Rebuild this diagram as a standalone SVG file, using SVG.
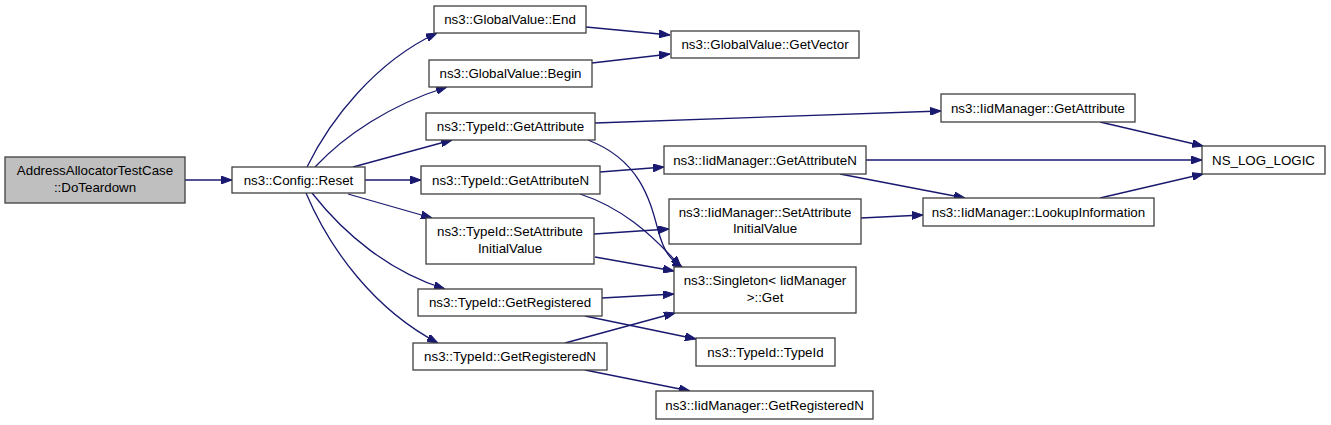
<svg xmlns="http://www.w3.org/2000/svg" width="1331" height="425" viewBox="0 0 1331 425">
<style>
.n rect{fill:#fff;stroke:#404040;stroke-width:1.3}
.n.root rect{fill:#bfbfbf}
text{font-family:"Liberation Sans",Arial,sans-serif;font-size:13.33px;fill:#000;text-anchor:middle}
.e path{fill:none;stroke:#191970;stroke-width:1.3;marker-end:url(#ah)}
</style>
<defs>
<marker id="ah" markerUnits="userSpaceOnUse" markerWidth="11" markerHeight="8" refX="11" refY="4" orient="auto">
<path d="M0,0 L11,4 L0,8 z" fill="#191970" stroke="#191970" stroke-width="1"/>
</marker>
</defs>
<rect width="1331" height="425" fill="#fff"/>
<g id="edges" class="e">
<path d="M185,180 L232,180"/>
<path d="M307,167 C330,120 375,62 437,33"/>
<path d="M315,167 C345,135 390,105 447,87"/>
<path d="M353,167 L452,140"/>
<path d="M365,180 L421,180"/>
<path d="M348,194 L432,218"/>
<path d="M312,193 C345,235 390,272 445,289"/>
<path d="M306,193 C330,250 375,310 438,343"/>
<path d="M586,27 L670,35"/>
<path d="M592,63 L670,54"/>
<path d="M595,123 L941,111"/>
<path d="M588,140 C640,160 650,200 658,230 C664,252 670,260 683,268"/>
<path d="M600,172 L664,167"/>
<path d="M580,194 C620,207 650,232 681,267"/>
<path d="M594,234 L669,229"/>
<path d="M595,257 L674,271"/>
<path d="M866,160 L1202,160"/>
<path d="M840,174 L965,198"/>
<path d="M861,218 L923,215"/>
<path d="M1100,122 L1203,146"/>
<path d="M1100,198 L1203,174"/>
<path d="M602,298 L674,294"/>
<path d="M585,316 L696,339"/>
<path d="M565,343 L675,313"/>
<path d="M585,370 L690,391"/>
</g>
<g id="n_doteardown" class="n root"><rect x="5" y="157" width="180" height="46"/><text x="95" y="175">AddressAllocatorTestCase</text><text x="95" y="192">::DoTeardown</text></g>
<g id="n_reset" class="n"><rect x="232" y="167" width="133" height="26"/><text x="298.5" y="184.5">ns3::Config::Reset</text></g>
<g id="n_gv_end" class="n"><rect x="434" y="6" width="152" height="27"/><text x="510" y="24">ns3::GlobalValue::End</text></g>
<g id="n_gv_begin" class="n"><rect x="429" y="60" width="163" height="27"/><text x="510.5" y="78">ns3::GlobalValue::Begin</text></g>
<g id="n_gv_getvector" class="n"><rect x="671" y="31" width="188" height="27"/><text x="765" y="49">ns3::GlobalValue::GetVector</text></g>
<g id="n_tid_getattr" class="n"><rect x="426" y="113" width="169" height="27"/><text x="510.5" y="131">ns3::TypeId::GetAttribute</text></g>
<g id="n_tid_getattrn" class="n"><rect x="421" y="166" width="179" height="28"/><text x="510.5" y="184.5">ns3::TypeId::GetAttributeN</text></g>
<g id="n_tid_setattr" class="n"><rect x="426" y="218" width="168" height="46"/><text x="510" y="236">ns3::TypeId::SetAttribute</text><text x="510" y="253">InitialValue</text></g>
<g id="n_tid_getreg" class="n"><rect x="418" y="289" width="184" height="27"/><text x="510" y="307">ns3::TypeId::GetRegistered</text></g>
<g id="n_tid_getregn" class="n"><rect x="413" y="343" width="194" height="27"/><text x="510" y="361">ns3::TypeId::GetRegisteredN</text></g>
<g id="n_iid_getattrn" class="n"><rect x="664" y="146" width="202" height="28"/><text x="765" y="164.5">ns3::IidManager::GetAttributeN</text></g>
<g id="n_iid_setattr" class="n"><rect x="669" y="199" width="192" height="45"/><text x="765" y="216.5">ns3::IidManager::SetAttribute</text><text x="765" y="233">InitialValue</text></g>
<g id="n_singleton" class="n"><rect x="674" y="267" width="182" height="46"/><text x="765" y="285">ns3::Singleton&lt; IidManager</text><text x="765" y="302">&gt;::Get</text></g>
<g id="n_tid_typeid" class="n"><rect x="696" y="338" width="139" height="28"/><text x="765.5" y="356.5">ns3::TypeId::TypeId</text></g>
<g id="n_iid_getregn" class="n"><rect x="656" y="391" width="217" height="28"/><text x="764.5" y="409.5">ns3::IidManager::GetRegisteredN</text></g>
<g id="n_iid_getattr" class="n"><rect x="941" y="94" width="194" height="28"/><text x="1038" y="112.5">ns3::IidManager::GetAttribute</text></g>
<g id="n_iid_lookup" class="n"><rect x="923" y="198" width="231" height="28"/><text x="1038.5" y="216.5">ns3::IidManager::LookupInformation</text></g>
<g id="n_nslog" class="n"><rect x="1202" y="146" width="123" height="28"/><text x="1263.5" y="164.5">NS_LOG_LOGIC</text></g>
</svg>
